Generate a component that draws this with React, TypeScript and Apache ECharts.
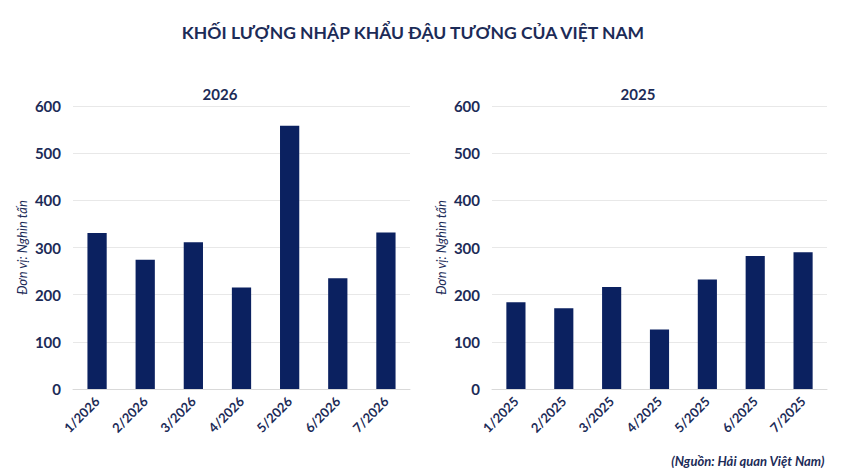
import { useEffect, useRef } from 'react'
import * as echarts from 'echarts'

const months2026 = ['1/2026', '2/2026', '3/2026', '4/2026', '5/2026', '6/2026', '7/2026']
const values2026 = [331, 274, 311, 215, 558, 235, 332]

const months2025 = ['1/2025', '2/2025', '3/2025', '4/2025', '5/2025', '6/2025', '7/2025']
const values2025 = [184, 171, 216, 126, 232, 282, 290]

const NAVY = '#0b2160'
const TEXT = '#1c2b57'
const FONT = "Lato, 'Open Sans', sans-serif"

export default function App() {
  const chartRef = useRef<HTMLDivElement>(null)

  useEffect(() => {
    if (!chartRef.current) return
    const chart = echarts.init(chartRef.current, null, { renderer: 'svg' })

    const yAxis = (gridIndex: number) => ({
      type: 'value',
      gridIndex,
      min: 0,
      max: 600,
      interval: 100,
      name: 'Đơn vị: Nghìn tấn',
      nameLocation: 'middle',
      nameGap: 45,
      nameTextStyle: { color: TEXT, fontStyle: 'italic', fontSize: 13, fontFamily: FONT },
      axisLine: { show: false },
      axisTick: { show: false },
      axisLabel: { color: TEXT, fontWeight: 'bold', fontSize: 15, fontFamily: FONT, margin: 12 },
      splitLine: { lineStyle: { color: '#e8e8e8' } }
    })

    const xAxis = (gridIndex: number, data: string[]) => ({
      type: 'category',
      gridIndex,
      data,
      axisLine: { lineStyle: { color: '#d9d9d9' } },
      axisTick: { show: false },
      axisLabel: {
        color: TEXT,
        fontSize: 13,
        fontWeight: 'bold',
        fontFamily: FONT,
        rotate: 45,
        interval: 0,
        margin: 10
      }
    })

    chart.setOption({
      animation: false,
      title: [
        {
          text: 'KHỐI LƯỢNG NHẬP KHẨU ĐẬU TƯƠNG CỦA VIỆT NAM',
          left: 408,
          top: 18,
          textAlign: 'center',
          textStyle: { color: TEXT, fontSize: 17.5, fontWeight: 'bold', fontFamily: FONT }
        },
        {
          text: '2026',
          left: 215,
          top: 81,
          textAlign: 'center',
          textStyle: { color: TEXT, fontSize: 15, fontWeight: 'bold', fontFamily: FONT }
        },
        {
          text: '2025',
          left: 633,
          top: 81,
          textAlign: 'center',
          textStyle: { color: TEXT, fontSize: 15, fontWeight: 'bold', fontFamily: FONT }
        },
        {
          text: '(Nguồn: Hải quan Việt Nam)',
          right: 20,
          top: 449,
          textStyle: { color: TEXT, fontSize: 13, fontWeight: 'bold', fontStyle: 'italic', fontFamily: FONT }
        }
      ],
      grid: [
        { left: 73, right: 440, top: 106, bottom: 85 },
        { left: 492, right: 23, top: 106, bottom: 85 }
      ],
      xAxis: [xAxis(0, months2026), xAxis(1, months2025)],
      yAxis: [yAxis(0), yAxis(1)],
      series: [
        {
          type: 'bar',
          xAxisIndex: 0,
          yAxisIndex: 0,
          data: values2026,
          barWidth: '40%',
          itemStyle: { color: NAVY }
        },
        {
          type: 'bar',
          xAxisIndex: 1,
          yAxisIndex: 1,
          data: values2025,
          barWidth: '40%',
          itemStyle: { color: NAVY }
        }
      ]
    })

    return () => {
      chart.dispose()
    }
  }, [])

  return (
    <div
      ref={chartRef}
      style={{ width: 850, height: 474, position: 'absolute', left: 0, top: 0, background: '#fff' }}
    />
  )
}
